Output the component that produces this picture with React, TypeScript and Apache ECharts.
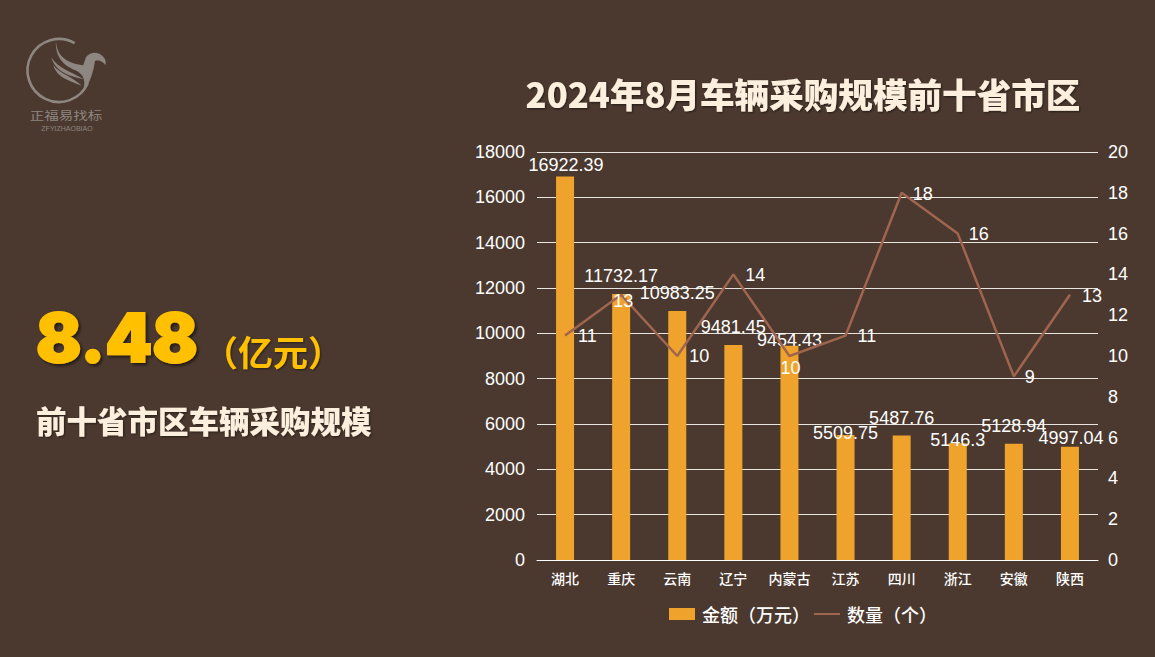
import React, { useEffect, useRef } from "react";
import * as echarts from "echarts";

const categories = ["湖北", "重庆", "云南", "辽宁", "内蒙古", "江苏", "四川", "浙江", "安徽", "陕西"];
const amounts = [16922.39, 11732.17, 10983.25, 9481.45, 9454.43, 5509.75, 5487.76, 5146.3, 5128.94, 4997.04];
const counts = [11, 13, 10, 14, 10, 11, 18, 16, 9, 13];
const amountTicks = { min: 0, max: 18000, interval: 2000 };
const countTicks = { min: 0, max: 20, interval: 2 };
const titleText = "2024年8月车辆采购规模前十省市区";
const bigNumber = "8.48";
const bigUnit = "（亿元）";
const subtitle = "前十省市区车辆采购规模";
const seriesNames = ["金额（万元）", "数量（个）"];

const barLabelOffsets = [[1, 3], [0, -4], [0, -4], [0, -4], [0, 8], [0, 12], [0, -4], [0, 11], [0, -4], [1, 5]];
const lineLabelOffsets = [[8, 0], [-13, 6], [7, 0], [7, 1], [-14, 12], [7, 0], [6, 1], [6, 0], [6, 1], [7, 1]];

const CJK = '"Noto Sans CJK SC", "Liberation Sans", sans-serif';
const LATIN = '"Liberation Sans", "Noto Sans CJK SC", sans-serif';
const BG = "#4B392F";
const LOGO = "#8E8680";
const CREAM = "#FCEFDD";
const GOLD = "#FFC000";

echarts.graphic.registerShape(
  "birdWing",
  echarts.graphic.extendPath(
    "M168 62 C170 100 190 128 250 136 L258 112 C268 96 295 92 310 110 C318 118 319 128 316 135 C308 124 298 119 285 123 C282 150 270 195 245 222 C262 185 252 162 225 150 C190 136 165 110 168 62 Z " +
      "M154 112 C175 146 215 156 252 178 C220 172 165 158 154 112 Z " +
      "M160 136 C180 162 218 170 246 198 C215 184 172 176 160 136 Z",
    {}
  )
);

export default function App() {
  const ref = useRef<HTMLDivElement>(null);
  useEffect(() => {
    document.body.style.margin = "0";
    document.body.style.background = BG;
    const chart = echarts.init(ref.current!, undefined, { renderer: "svg" });
    const axisText = { color: "#FFFFFF", fontSize: 18, fontFamily: LATIN };
    chart.setOption({
      animation: false,
      backgroundColor: BG,
      grid: { left: 537, right: 57, top: 152, height: 408, containLabel: false },
      legend: {
        left: 664,
        top: 600,
        itemWidth: 26,
        itemHeight: 12,
        itemGap: 3,
        data: [
          { name: seriesNames[0], icon: "rect" },
          { name: seriesNames[1] },
        ],
        textStyle: { color: "#FFFFFF", fontSize: 18, fontWeight: 500, fontFamily: CJK, padding: [0, 0, 0, 2] },
      },
      xAxis: {
        type: "category",
        data: categories,
        axisTick: { show: false },
        axisLine: { lineStyle: { color: "#FFFFFF", width: 1 } },
        axisLabel: { color: "#FFFFFF", fontSize: 14, fontWeight: 500, fontFamily: CJK, margin: 11, interval: 0 },
      },
      yAxis: [
        {
          type: "value",
          ...amountTicks,
          axisLine: { show: false },
          axisTick: { show: false },
          axisLabel: { ...axisText, margin: 12, formatter: (v: number) => String(v) },
          splitLine: { lineStyle: { color: "#E8E4E0", width: 1 } },
        },
        {
          type: "value",
          ...countTicks,
          position: "right",
          axisLine: { show: false },
          axisTick: { show: false },
          axisLabel: { ...axisText, margin: 10 },
          splitLine: { show: false },
        },
      ],
      series: [
        {
          name: seriesNames[0],
          type: "bar",
          yAxisIndex: 0,
          barWidth: 18,
          itemStyle: { color: "#F0A32C" },
          data: amounts.map((value, i) => ({
            value,
            label: {
              show: true,
              position: "top",
              distance: 5,
              offset: barLabelOffsets[i],
              ...axisText,
            },
          })),
        },
        {
          name: seriesNames[1],
          type: "line",
          yAxisIndex: 1,
          symbol: "circle",
          symbolSize: 0,
          showSymbol: true,
          lineStyle: { color: "#A0654F", width: 2.5 },
          itemStyle: { color: "transparent" },
          z: 5,
          data: counts.map((value, i) => ({
            value,
            label: {
              show: true,
              position: "right",
              distance: 5,
              offset: lineLabelOffsets[i],
              ...axisText,
            },
          })),
        },
      ],
      graphic: [
        {
          type: "arc",
          shape: { cx: 59, cy: 70.5, r: 31.5, startAngle: -1.05, endAngle: 0.42, clockwise: false },
          style: { stroke: LOGO, lineWidth: 2.6, fill: "none" },
        },
        {
          type: "birdWing",
          x: 0,
          y: 20,
          scaleX: 1 / 3,
          scaleY: 1 / 3,
          style: { fill: LOGO },
        },
        {
          type: "text",
          x: 66,
          y: 115,
          scaleX: 1.32,
          style: {
            text: "正福易找标",
            x: 0,
            y: 0,
            fill: LOGO,
            font: '11px "Noto Sans CJK SC"',
            textAlign: "center",
            textVerticalAlign: "middle",
          },
        },
        {
          type: "text",
          style: {
            text: "ZFYIZHAOBIAO",
            x: 67,
            y: 128,
            fill: LOGO,
            font: '7px "Liberation Sans"',
            textAlign: "center",
            textVerticalAlign: "middle",
          },
        },
        {
          type: "text",
          style: {
            text: titleText,
            x: 803,
            y: 93,
            fill: CREAM,
            font: `900 34.6px ${CJK}`,
            textAlign: "center",
            textVerticalAlign: "middle",
            textShadowColor: "rgba(0,0,0,0.55)",
            textShadowBlur: 2,
            textShadowOffsetX: 1,
            textShadowOffsetY: 1,
          },
        },
        {
          type: "text",
          style: {
            text: bigNumber,
            x: 36,
            y: 337,
            fill: GOLD,
            stroke: GOLD,
            lineWidth: 2,
            font: `900 67px Inter, ${LATIN}`,
            textAlign: "left",
            textVerticalAlign: "middle",
            textShadowColor: "rgba(0,0,0,0.55)",
            textShadowBlur: 3,
            textShadowOffsetX: 2,
            textShadowOffsetY: 2,
          },
        },
        {
          type: "text",
          style: {
            text: bigUnit,
            x: 203,
            y: 350,
            fill: GOLD,
            font: `bold 35px ${CJK}`,
            textAlign: "left",
            textVerticalAlign: "middle",
            textShadowColor: "rgba(0,0,0,0.5)",
            textShadowBlur: 2,
            textShadowOffsetX: 1,
            textShadowOffsetY: 1,
          },
        },
        {
          type: "text",
          style: {
            text: subtitle,
            x: 36,
            y: 420,
            fill: CREAM,
            font: `900 30.5px ${CJK}`,
            textAlign: "left",
            textVerticalAlign: "middle",
            textShadowColor: "rgba(0,0,0,0.5)",
            textShadowBlur: 2,
            textShadowOffsetX: 1,
            textShadowOffsetY: 1,
          },
        },
      ],
    });
    return () => chart.dispose();
  }, []);
  return <div ref={ref} style={{ position: "absolute", left: 0, top: 0, width: 1155, height: 657 }} />;
}
